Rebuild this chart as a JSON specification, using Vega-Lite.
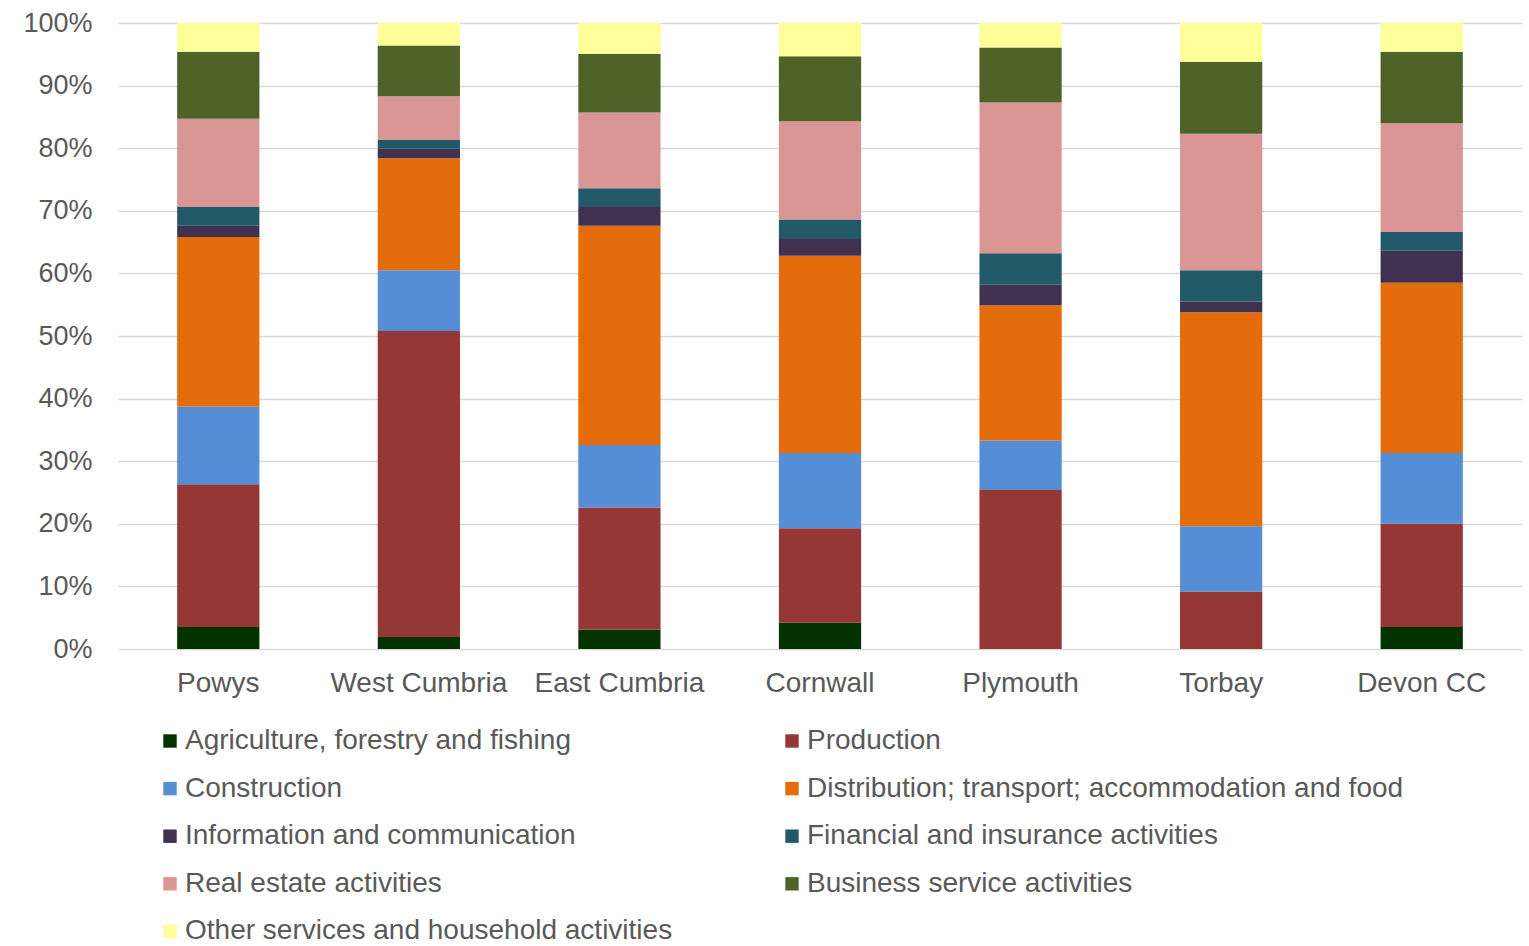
{
  "$schema": "https://vega.github.io/schema/vega-lite/v6.json",
  "width": 1404,
  "height": 626,
  "autosize": {"type": "none"},
  "padding": {"left": 118, "top": 23, "right": 7, "bottom": 297},
  "background": "white",
  "config": {
    "view": {"stroke": null},
    "font": "Liberation Sans",
    "axis": {"labelFont": "Liberation Sans", "labelColor": "#595959"},
    "legend": {"labelFont": "Liberation Sans", "labelColor": "#595959"}
  },
  "data": {
    "values": [
      {"region": "Powys", "sector": "Agriculture, forestry and fishing", "rank": 1, "share": 3.5},
      {"region": "Powys", "sector": "Production", "rank": 2, "share": 22.8},
      {"region": "Powys", "sector": "Construction", "rank": 3, "share": 12.4},
      {"region": "Powys", "sector": "Distribution; transport; accommodation and food", "rank": 4, "share": 27.1},
      {"region": "Powys", "sector": "Information and communication", "rank": 5, "share": 1.8},
      {"region": "Powys", "sector": "Financial and insurance activities", "rank": 6, "share": 3.0},
      {"region": "Powys", "sector": "Real estate activities", "rank": 7, "share": 14.1},
      {"region": "Powys", "sector": "Business service activities", "rank": 8, "share": 10.7},
      {"region": "Powys", "sector": "Other services and household activities", "rank": 9, "share": 4.6},

      {"region": "West Cumbria", "sector": "Agriculture, forestry and fishing", "rank": 1, "share": 1.9},
      {"region": "West Cumbria", "sector": "Production", "rank": 2, "share": 48.9},
      {"region": "West Cumbria", "sector": "Construction", "rank": 3, "share": 9.7},
      {"region": "West Cumbria", "sector": "Distribution; transport; accommodation and food", "rank": 4, "share": 17.9},
      {"region": "West Cumbria", "sector": "Information and communication", "rank": 5, "share": 1.5},
      {"region": "West Cumbria", "sector": "Financial and insurance activities", "rank": 6, "share": 1.4},
      {"region": "West Cumbria", "sector": "Real estate activities", "rank": 7, "share": 7.0},
      {"region": "West Cumbria", "sector": "Business service activities", "rank": 8, "share": 8.1},
      {"region": "West Cumbria", "sector": "Other services and household activities", "rank": 9, "share": 3.6},

      {"region": "East Cumbria", "sector": "Agriculture, forestry and fishing", "rank": 1, "share": 3.1},
      {"region": "East Cumbria", "sector": "Production", "rank": 2, "share": 19.5},
      {"region": "East Cumbria", "sector": "Construction", "rank": 3, "share": 10.0},
      {"region": "East Cumbria", "sector": "Distribution; transport; accommodation and food", "rank": 4, "share": 35.0},
      {"region": "East Cumbria", "sector": "Information and communication", "rank": 5, "share": 3.0},
      {"region": "East Cumbria", "sector": "Financial and insurance activities", "rank": 6, "share": 3.0},
      {"region": "East Cumbria", "sector": "Real estate activities", "rank": 7, "share": 12.1},
      {"region": "East Cumbria", "sector": "Business service activities", "rank": 8, "share": 9.4},
      {"region": "East Cumbria", "sector": "Other services and household activities", "rank": 9, "share": 4.9},

      {"region": "Cornwall", "sector": "Agriculture, forestry and fishing", "rank": 1, "share": 4.2},
      {"region": "Cornwall", "sector": "Production", "rank": 2, "share": 15.1},
      {"region": "Cornwall", "sector": "Construction", "rank": 3, "share": 12.0},
      {"region": "Cornwall", "sector": "Distribution; transport; accommodation and food", "rank": 4, "share": 31.5},
      {"region": "Cornwall", "sector": "Information and communication", "rank": 5, "share": 2.7},
      {"region": "Cornwall", "sector": "Financial and insurance activities", "rank": 6, "share": 3.1},
      {"region": "Cornwall", "sector": "Real estate activities", "rank": 7, "share": 15.7},
      {"region": "Cornwall", "sector": "Business service activities", "rank": 8, "share": 10.4},
      {"region": "Cornwall", "sector": "Other services and household activities", "rank": 9, "share": 5.3},

      {"region": "Plymouth", "sector": "Agriculture, forestry and fishing", "rank": 1, "share": 0.0},
      {"region": "Plymouth", "sector": "Production", "rank": 2, "share": 25.4},
      {"region": "Plymouth", "sector": "Construction", "rank": 3, "share": 7.9},
      {"region": "Plymouth", "sector": "Distribution; transport; accommodation and food", "rank": 4, "share": 21.6},
      {"region": "Plymouth", "sector": "Information and communication", "rank": 5, "share": 3.3},
      {"region": "Plymouth", "sector": "Financial and insurance activities", "rank": 6, "share": 5.0},
      {"region": "Plymouth", "sector": "Real estate activities", "rank": 7, "share": 24.1},
      {"region": "Plymouth", "sector": "Business service activities", "rank": 8, "share": 8.8},
      {"region": "Plymouth", "sector": "Other services and household activities", "rank": 9, "share": 3.9},

      {"region": "Torbay", "sector": "Agriculture, forestry and fishing", "rank": 1, "share": 0.0},
      {"region": "Torbay", "sector": "Production", "rank": 2, "share": 9.2},
      {"region": "Torbay", "sector": "Construction", "rank": 3, "share": 10.4},
      {"region": "Torbay", "sector": "Distribution; transport; accommodation and food", "rank": 4, "share": 34.2},
      {"region": "Torbay", "sector": "Information and communication", "rank": 5, "share": 1.7},
      {"region": "Torbay", "sector": "Financial and insurance activities", "rank": 6, "share": 5.0},
      {"region": "Torbay", "sector": "Real estate activities", "rank": 7, "share": 21.8},
      {"region": "Torbay", "sector": "Business service activities", "rank": 8, "share": 11.5},
      {"region": "Torbay", "sector": "Other services and household activities", "rank": 9, "share": 6.2},

      {"region": "Devon CC", "sector": "Agriculture, forestry and fishing", "rank": 1, "share": 3.5},
      {"region": "Devon CC", "sector": "Production", "rank": 2, "share": 16.5},
      {"region": "Devon CC", "sector": "Construction", "rank": 3, "share": 11.3},
      {"region": "Devon CC", "sector": "Distribution; transport; accommodation and food", "rank": 4, "share": 27.2},
      {"region": "Devon CC", "sector": "Information and communication", "rank": 5, "share": 5.1},
      {"region": "Devon CC", "sector": "Financial and insurance activities", "rank": 6, "share": 3.0},
      {"region": "Devon CC", "sector": "Real estate activities", "rank": 7, "share": 17.4},
      {"region": "Devon CC", "sector": "Business service activities", "rank": 8, "share": 11.4},
      {"region": "Devon CC", "sector": "Other services and household activities", "rank": 9, "share": 4.6}
    ]
  },
  "mark": {"type": "bar"},
  "encoding": {
    "x": {
      "field": "region",
      "type": "nominal",
      "sort": null,
      "scale": {"paddingInner": 0.59, "paddingOuter": 0.295},
      "axis": {
        "title": null,
        "labelAngle": 0,
        "labelFontSize": 28,
        "labelPadding": 20,
        "ticks": false,
        "domain": false,
        "grid": false
      }
    },
    "y": {
      "field": "share",
      "type": "quantitative",
      "stack": "normalize",
      "scale": {"domain": [0, 1]},
      "axis": {
        "title": null,
        "format": "%",
        "values": [0, 0.1, 0.2, 0.3, 0.4, 0.5, 0.6, 0.7, 0.8, 0.9, 1],
        "labelFontSize": 27,
        "labelPadding": 26,
        "ticks": false,
        "domain": false,
        "grid": true,
        "gridColor": "#d9d9d9",
        "gridWidth": 1.5
      }
    },
    "order": {"field": "rank", "type": "quantitative", "sort": "ascending"},
    "color": {
      "field": "sector",
      "type": "nominal",
      "scale": {
        "domain": [
          "Agriculture, forestry and fishing",
          "Production",
          "Construction",
          "Distribution; transport; accommodation and food",
          "Information and communication",
          "Financial and insurance activities",
          "Real estate activities",
          "Business service activities",
          "Other services and household activities"
        ],
        "range": ["#023300", "#953735", "#558ED5", "#E46C0A", "#403151", "#215968", "#D99694", "#4F6228", "#FFFF99"]
      },
      "legend": {
        "title": null,
        "orient": "none",
        "legendX": 38,
        "legendY": 704,
        "direction": "horizontal",
        "columns": 2,
        "columnPadding": 105,
        "rowPadding": 19.6,
        "symbolType": "square",
        "symbolSize": 180,
        "symbolStrokeWidth": 0,
        "labelFontSize": 28,
        "labelOffset": 1,
        "labelLimit": 800
      }
    }
  }
}
